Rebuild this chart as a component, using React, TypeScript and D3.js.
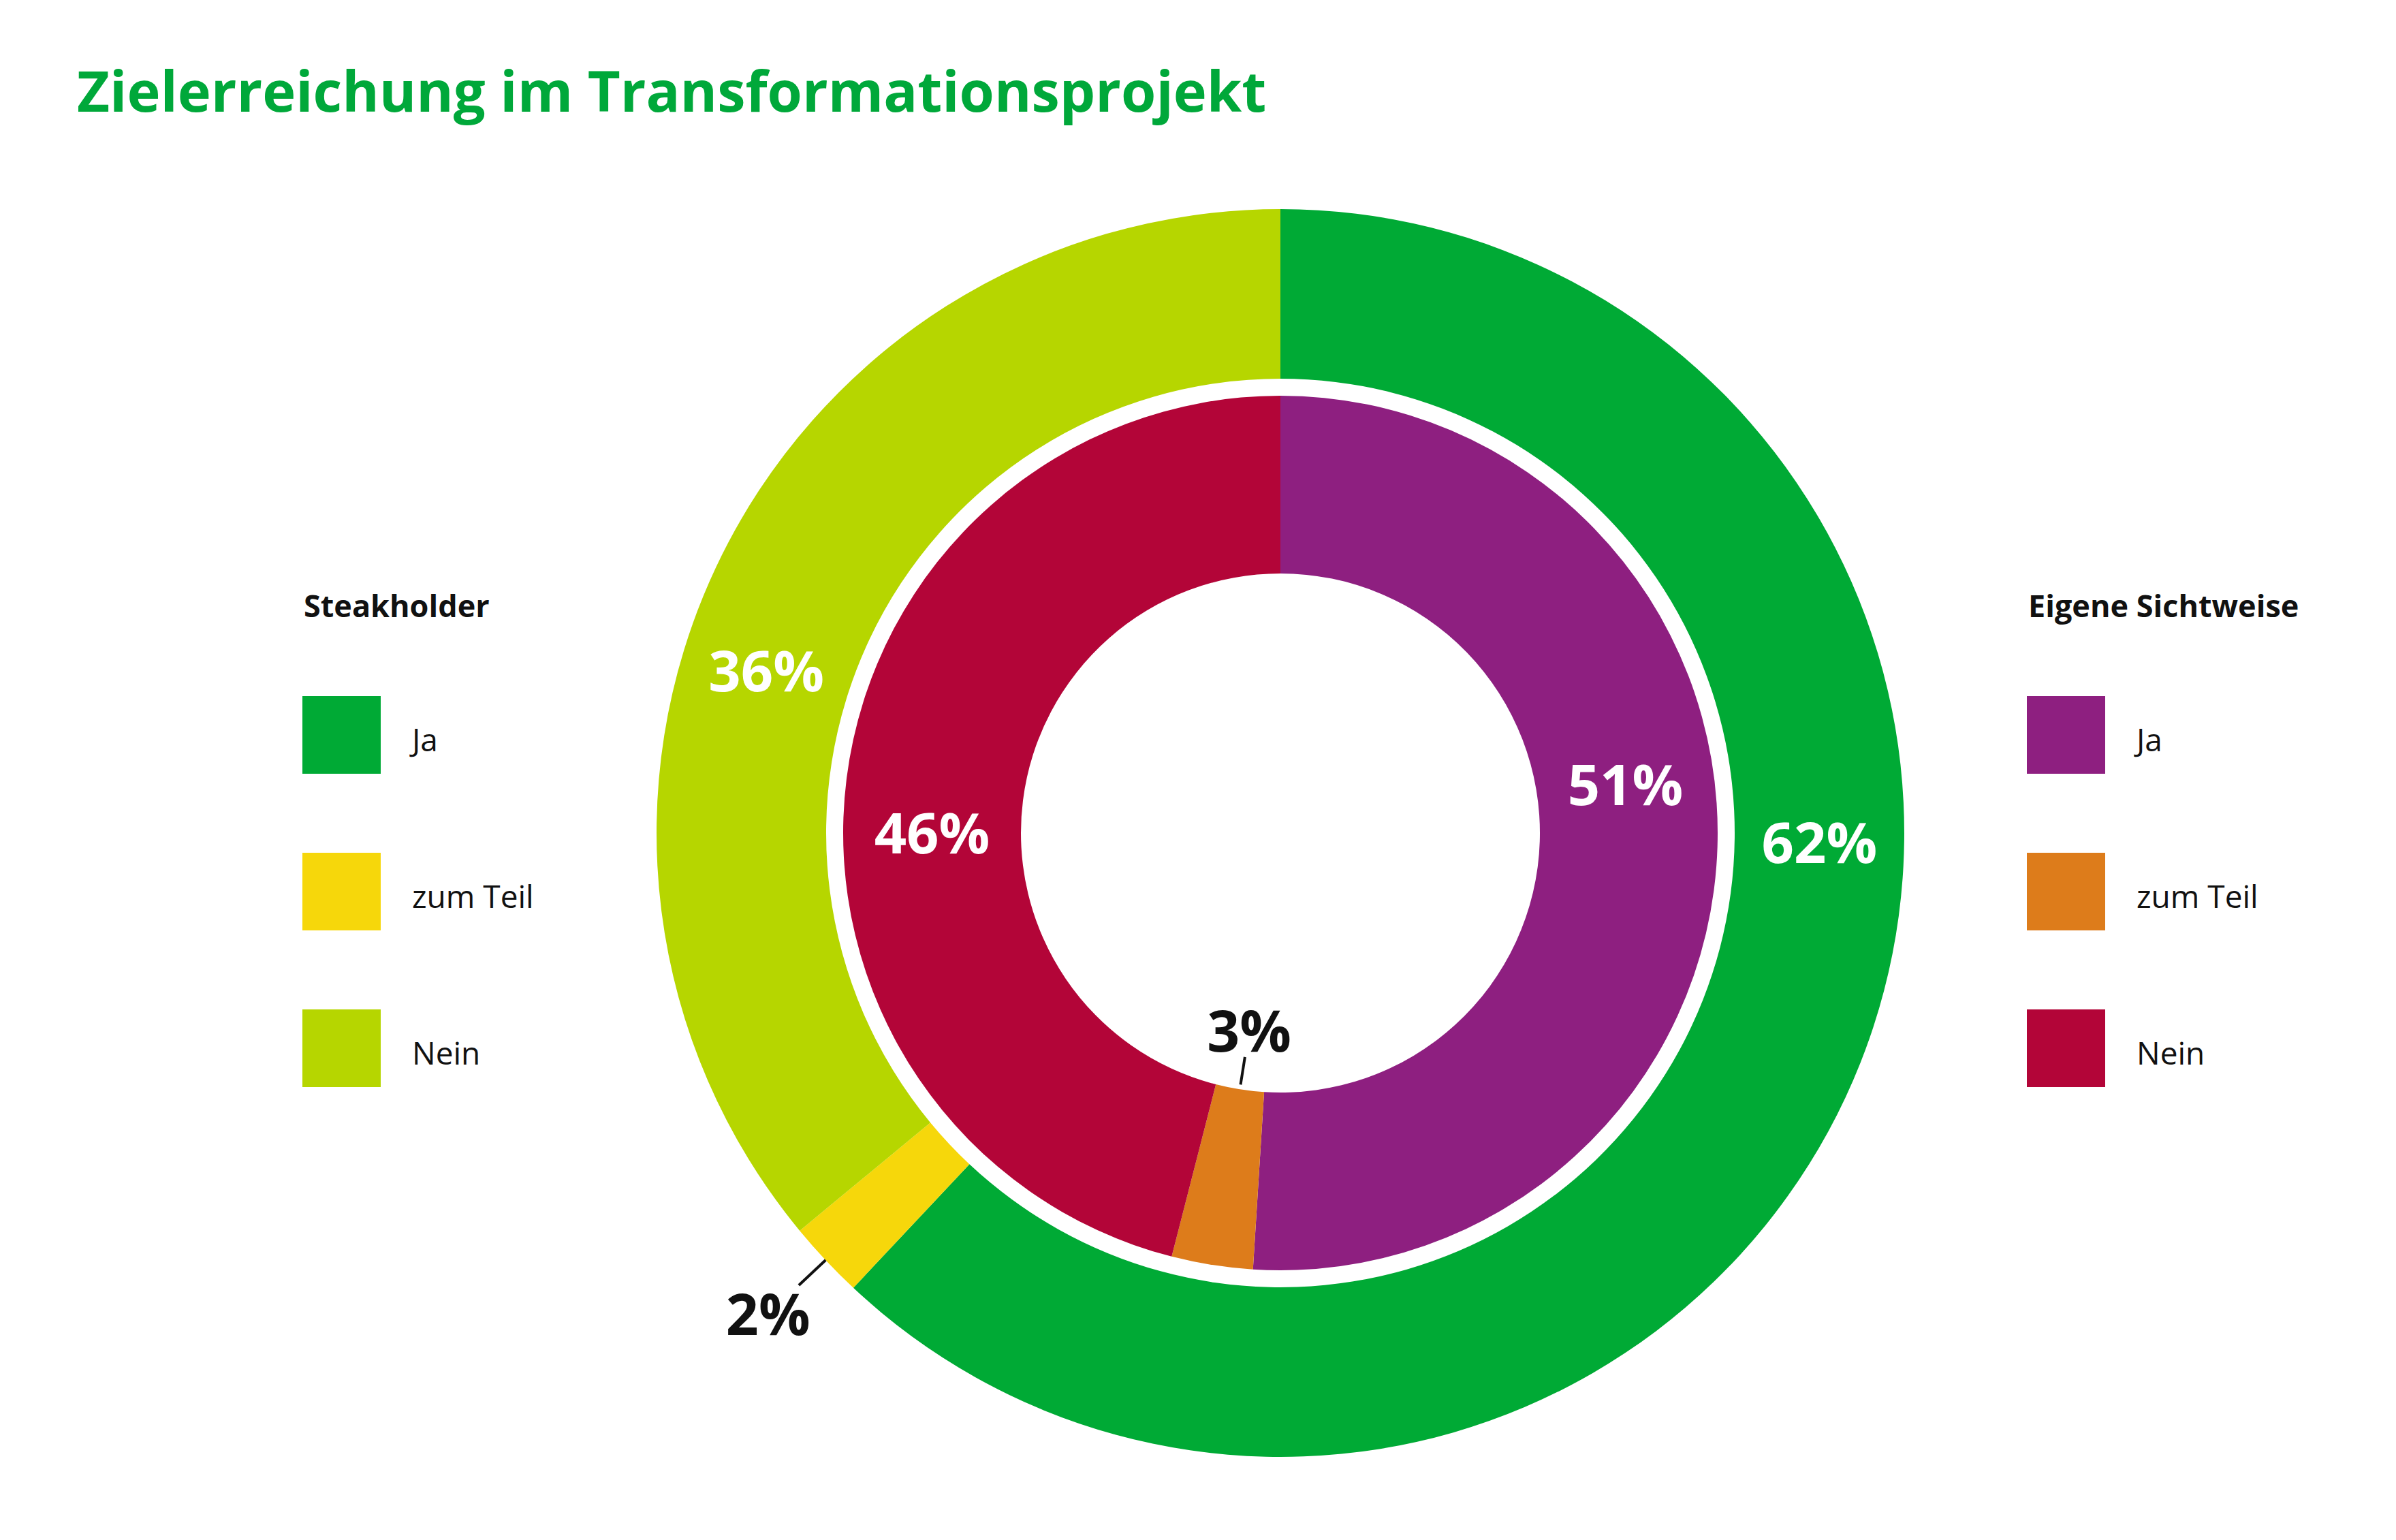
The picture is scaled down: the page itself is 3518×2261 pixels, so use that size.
import { useMemo } from "react";
import * as d3 from "d3";

const categories = ["Ja", "zum Teil", "Nein"];
const stakeholderValues = [62, 2, 36];
const ownViewValues = [51, 3, 46];
const stakeholderColors = ["#00AA35", "#F6D70B", "#B6D600"];
const ownViewColors = ["#8E1F80", "#DD7C1B", "#B30538"];

const title = "Zielerreichung im Transformationsprojekt";
const stakeholderTitle = "Steakholder";
const ownViewTitle = "Eigene Sichtweise";

// label placement (degrees, clockwise from 12 o'clock); null = callout label
const outerLabelAngles = [91, null, 287.5];
const innerLabelAngles = [82, null, 270];

const W = 3518;
const H = 2261;
const cx = 1880;
const cy = 1223;
const outerR = [667, 916];
const innerR = [381, 642];
const FONT = "'Open Sans', 'Noto Sans', sans-serif";

const toRad = (deg: number) => (deg * Math.PI) / 180;
const polar = (angle: number, r: number): [number, number] => [
  r * Math.sin(angle),
  -r * Math.cos(angle),
];

function Ring({
  values,
  colors,
  radii,
  labelAngles,
  callout,
}: {
  values: number[];
  colors: string[];
  radii: number[];
  labelAngles: (number | null)[];
  callout: { r0: number; r1: number; rText: number };
}) {
  const arcs = useMemo(
    () => d3.pie<number>().sort(null).value((d) => d)(values),
    [values]
  );
  const arc = d3
    .arc<d3.PieArcDatum<number>>()
    .innerRadius(radii[0])
    .outerRadius(radii[1]);
  const midR = (radii[0] + radii[1]) / 2;

  return (
    <g>
      {arcs.map((a, i) => (
        <path key={"s" + i} d={arc(a) || ""} fill={colors[i]} />
      ))}
      {arcs.map((a, i) => {
        const deg = labelAngles[i];
        const text = `${values[i]}%`;
        if (deg !== null) {
          const [x, y] = polar(toRad(deg), midR);
          return (
            <text
              key={"l" + i}
              x={x}
              y={y}
              dy="0.36em"
              textAnchor="middle"
              fill="#fff"
              fontFamily={FONT}
              fontWeight={700}
              fontSize={83}
            >
              {text}
            </text>
          );
        }
        const mid = (a.startAngle + a.endAngle) / 2;
        const [x0, y0] = polar(mid, callout.r0);
        const [x1, y1] = polar(mid, callout.r1);
        const [tx, ty] = polar(mid, callout.rText);
        return (
          <g key={"l" + i}>
            <line x1={x0} y1={y0} x2={x1} y2={y1} stroke="#111" strokeWidth={4} />
            <text
              x={tx}
              y={ty}
              dy="0.36em"
              textAnchor="middle"
              fill="#111"
              fontFamily={FONT}
              fontWeight={700}
              fontSize={84}
            >
              {text}
            </text>
          </g>
        );
      })}
    </g>
  );
}

function Legend({
  x,
  heading,
  colors,
}: {
  x: number;
  heading: string;
  colors: string[];
}) {
  const y = d3
    .scalePoint<string>()
    .domain(categories)
    .range([1022, 1482]);
  return (
    <g transform={`translate(${x},0)`}>
      <text
        x={2}
        y={906}
        fill="#111"
        fontFamily={FONT}
        fontWeight={700}
        fontSize={45}
      >
        {heading}
      </text>
      {categories.map((c, i) => (
        <g key={c} transform={`translate(0,${y(c)})`}>
          <rect width={115} height={114} fill={colors[i]} />
          <text
            x={161}
            y={81}
            fill="#111"
            fontFamily={FONT}
            fontSize={46}
          >
            {c}
          </text>
        </g>
      ))}
    </g>
  );
}

export default function App() {
  return (
    <svg
      width={W}
      height={H}
      style={{ position: "absolute", left: 0, top: 0, background: "#fff" }}
    >
      <text
        x={113}
        y={164}
        fill="#00A83A"
        fontFamily={FONT}
        fontWeight={700}
        fontSize={83}
      >
        {title}
      </text>
      <g transform={`translate(${cx},${cy})`}>
        <Ring
          values={stakeholderValues}
          colors={stakeholderColors}
          radii={outerR}
          labelAngles={outerLabelAngles}
          callout={{ r0: 916, r1: 970, rText: 1032 }}
        />
        <Ring
          values={ownViewValues}
          colors={ownViewColors}
          radii={innerR}
          labelAngles={innerLabelAngles}
          callout={{ r0: 374, r1: 333, rText: 294 }}
        />
      </g>
      <Legend x={444} heading={stakeholderTitle} colors={stakeholderColors} />
      <Legend x={2976} heading={ownViewTitle} colors={ownViewColors} />
    </svg>
  );
}
